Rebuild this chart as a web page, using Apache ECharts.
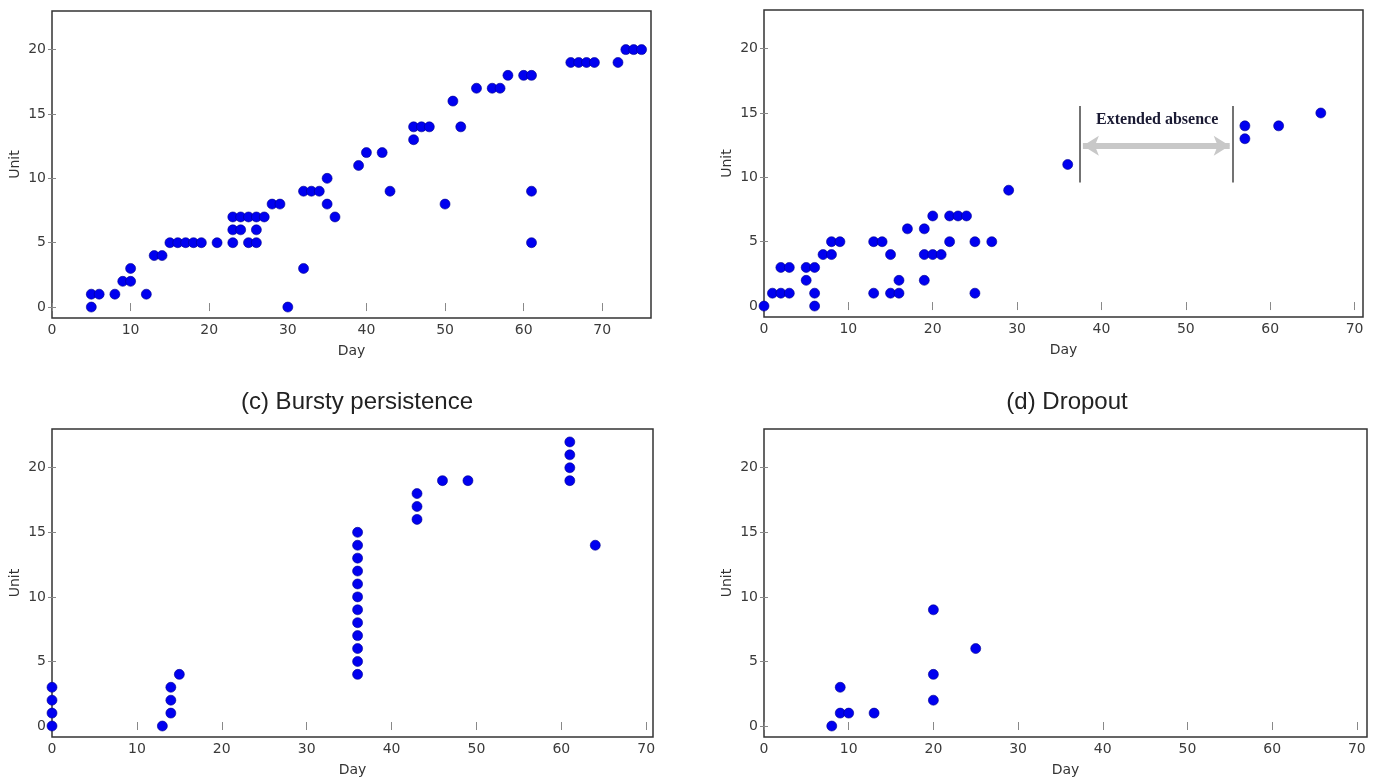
<!DOCTYPE html>
<html lang="en">
<head>
    <meta charset="UTF-8" />
    <title>Unit vs Day</title>
    <script src="https://cdn.jsdelivr.net/npm/echarts@6/dist/echarts.min.js"></script>
</head>
<body style="margin:0;background:#fff">
<div id="main" style="width:1374px;height:780px"></div>
<script type="text/javascript">
    // panel (a) - top left
    var aDays  = [5,5,6,8,9,10,10,12,13,14,15,16,17,18,19,21,23,23,23,24,24,25,25,26,26,26,27,28,29,30,32,32,33,34,35,35,36,39,40,42,43,46,46,47,48,50,51,52,54,56,57,58,60,61,61,61,66,67,68,69,72,73,74,75];
    var aUnits = [0,1,1,1,2,2,3,1,4,4,5,5,5,5,5,5,5,6,7,6,7,5,7,5,6,7,7,8,8,0,3,9,9,9,10,8,7,11,12,12,9,13,14,14,14,8,16,14,17,17,17,18,18,18,9,5,19,19,19,19,19,20,20,20];
    // panel (b) - top right
    var bDays  = [0,1,2,3,6,13,15,16,25,2,3,5,6,5,16,19,6,7,8,15,19,20,21,8,9,13,14,22,25,27,17,19,20,22,23,24,29,36,57,57,61,66];
    var bUnits = [0,1,1,1,1,1,1,1,1,3,3,3,3,2,2,2,0,4,4,4,4,4,4,5,5,5,5,5,5,5,6,6,7,7,7,7,9,11,14,13,14,15];
    // panel (c) - bursty persistence
    var cDays  = [0,0,0,0,13,14,14,14,15,36,36,36,36,36,36,36,36,36,36,36,36,43,43,43,46,49,61,61,61,61,64];
    var cUnits = [0,1,2,3,0,1,2,3,4,4,5,6,7,8,9,10,11,12,13,14,15,16,17,18,19,19,19,20,21,22,14];
    // panel (d) - dropout
    var dDays  = [8,9,10,9,13,20,20,20,25];
    var dUnits = [0,1,1,3,1,9,4,2,6];

    var xTicks = [0,10,20,30,40,50,60,70];
    var yTicks = [0,5,10,15,20];
    var titles = ['(c) Bursty persistence', '(d) Dropout'];
    var gapLabel = 'Extended absence';

    function pairs(xs, ys) {
        var out = [];
        for (var i = 0; i < xs.length; i++) out.push([xs[i], ys[i]]);
        return out;
    }

    var grids = [
        {left: 52,  top: 11,  width: 599, height: 307},
        {left: 764, top: 10,  width: 599, height: 307},
        {left: 52,  top: 429, width: 601, height: 308},
        {left: 764, top: 429, width: 603, height: 308}
    ];
    var xMax = [76.2, 71, 70.8, 71.2];

    var labelFont = {color: '#3a3a3a', fontSize: 14, fontFamily: 'DejaVu Sans'};
    var xAxes = [], yAxes = [];
    grids.forEach(function (g, i) {
        g.show = true;
        g.borderColor = '#333';
        g.borderWidth = 1.5;
        g.backgroundColor = '#fff';
        // bottom + top
        xAxes.push({
            type: 'value', gridIndex: i, min: 0, max: xMax[i],
            name: 'Day', nameLocation: 'middle', nameGap: 26,
            nameTextStyle: {color: '#333', fontSize: 14, fontFamily: 'DejaVu Sans'},
            axisLine: {show: false}, splitLine: {show: false},
            axisTick: {inside: true, length: 4, lineStyle: {color: '#888'}, customValues: xTicks},
            axisLabel: Object.assign({margin: 5, customValues: xTicks}, labelFont)
        });
        xAxes.push({
            type: 'value', gridIndex: i, min: 0, max: xMax[i], position: 'top',
            axisLine: {show: false}, splitLine: {show: false}, axisLabel: {show: false},
            axisTick: {inside: true, length: 4, lineStyle: {color: '#888'}, customValues: xTicks}
        });
        // left + right
        yAxes.push({
            type: 'value', gridIndex: i, min: -0.85, max: 23,
            name: 'Unit', nameLocation: 'middle', nameGap: 30,
            nameTextStyle: {color: '#333', fontSize: 14, fontFamily: 'DejaVu Sans'},
            axisLine: {show: false}, splitLine: {show: false},
            axisTick: {inside: true, length: 4, lineStyle: {color: '#888'}, customValues: yTicks},
            axisLabel: Object.assign({margin: 6, customValues: yTicks}, labelFont)
        });
        yAxes.push({
            type: 'value', gridIndex: i, min: -0.85, max: 23, position: 'right',
            axisLine: {show: false}, splitLine: {show: false}, axisLabel: {show: false},
            axisTick: {inside: true, length: 4, lineStyle: {color: '#888'}, customValues: yTicks}
        });
    });

    var dot = {color: '#0000f0', borderColor: '#00008b', borderWidth: 0.6, opacity: 1};
    function scatter(i, data) {
        return {
            type: 'scatter', xAxisIndex: i * 2, yAxisIndex: i * 2,
            symbolSize: 10, clip: true, itemStyle: dot, data: data
        };
    }

    var seriesB = scatter(1, pairs(bDays, bUnits));
    seriesB.markLine = {
        silent: true, animation: false,
        symbol: ['none', 'none'],
        label: {show: false},
        data: [
            [{coord: [37.4, 9.6], lineStyle: {color: '#444', width: 1.5, type: 'solid'}}, {coord: [37.4, 15.55]}],
            [{coord: [55.6, 9.6], lineStyle: {color: '#444', width: 1.5, type: 'solid'}}, {coord: [55.6, 15.55]}],
            [{coord: [37.8, 12.45], symbol: 'arrow', symbolSize: [15, 16], lineStyle: {color: '#c8c8c8', width: 6, type: 'solid'}},
             {coord: [55.2, 12.45], symbol: 'arrow', symbolSize: [15, 16]}]
        ]
    };
    seriesB.markPoint = {
        silent: true, animation: false,
        symbol: 'rect', symbolSize: 1,
        itemStyle: {color: 'rgba(0,0,0,0)'},
        label: {show: true, formatter: gapLabel, color: '#1a1a33', fontSize: 16, fontWeight: 'bold', fontFamily: 'Liberation Serif'},
        data: [{coord: [46.6, 14.45]}]
    };

    var myChart = echarts.init(document.getElementById('main'));
    var option = {
        animation: false,
        title: [
            {text: titles[0], left: 352, textAlign: 'center', top: 385, textStyle: {color: '#222', fontSize: 24, fontWeight: 'normal', fontFamily: 'Liberation Sans'}},
            {text: titles[1], left: 1062, textAlign: 'center', top: 385, textStyle: {color: '#222', fontSize: 24, fontWeight: 'normal', fontFamily: 'Liberation Sans'}}
        ],
        grid: grids,
        xAxis: xAxes,
        yAxis: yAxes,
        series: [
            scatter(0, pairs(aDays, aUnits)),
            seriesB,
            scatter(2, pairs(cDays, cUnits)),
            scatter(3, pairs(dDays, dUnits))
        ]
    };
    myChart.setOption(option);
</script>
</body>
</html>
